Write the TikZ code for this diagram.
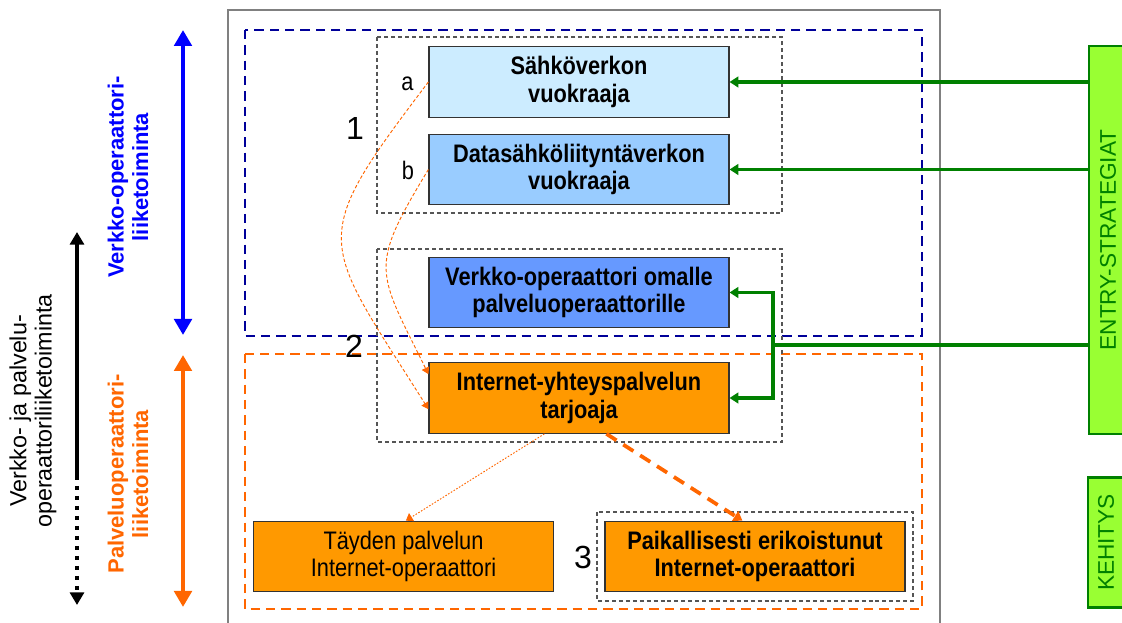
\documentclass[tikz,border=0pt]{standalone}
\usepackage{graphicx}
\usepackage{fontspec}
\setmainfont{Liberation Sans}
\newfontfamily\narrowsans{Liberation Sans}[FakeStretch=0.86]
\usetikzlibrary{arrows.meta,calc}

\definecolor{paleblue}{HTML}{CCECFF}
\definecolor{skyblue}{HTML}{99CCFF}
\definecolor{cornblue}{HTML}{6699FF}
\definecolor{isporange}{HTML}{FF9900}
\definecolor{navyline}{HTML}{000099}
\definecolor{orangeline}{HTML}{FF6600}
\definecolor{pureblue}{HTML}{0000FF}
\definecolor{darkgreen}{HTML}{008000}
\definecolor{limefill}{HTML}{99FF33}
\definecolor{framegray}{HTML}{808080}
\definecolor{groupgray}{HTML}{555555}
\definecolor{boxedge}{HTML}{333333}

\newcommand{\boxtextsize}{\narrowsans\fontsize{19}{20.5}\selectfont}
\newcommand{\sidetextsize}{\fontsize{16.5}{18.5}\selectfont}
\newcommand{\numtextsize}{\fontsize{24}{28}\selectfont}

\begin{document}
\begin{tikzpicture}[x=0.75pt,y=-0.75pt,
  opbox/.style={draw=boxedge, line width=0.9pt, minimum width=225pt,
    minimum height=52.9pt, inner sep=0pt, align=center,
    font=\boxtextsize\bfseries},
  groupbox/.style={draw=groupgray, line width=0.8pt, dash pattern=on 3pt off 2.2pt},
  netzone/.style={draw=navyline, line width=1.5pt, dash pattern=on 7pt off 4.5pt},
  servzone/.style={draw=orangeline, line width=1.5pt, dash pattern=on 7pt off 4.5pt},
  entrybox/.style={draw=darkgreen, fill=limefill, line width=2.2pt, inner sep=0pt,
    text=darkgreen, font=\fontsize{17}{20}\selectfont},
  greenarrow/.style={draw=darkgreen, line width=2.4pt,
    -{Triangle[width=8pt,length=6.5pt]}},
  greenline/.style={draw=darkgreen, line width=2.4pt},
  spanarrow/.style={line width=3pt,
    {Triangle[width=13pt,length=12pt]}-{Triangle[width=13pt,length=12pt]}},
  pathcurve/.style={draw=orangeline, line width=0.7pt, dash pattern=on 2.5pt off 1.6pt,
    -{Triangle[width=6pt,length=5pt]}},
  finedots/.style={draw=orangeline, line width=0.7pt, dash pattern=on 1.2pt off 1.2pt,
    -{Triangle[width=7pt,length=5pt]}},
  thickdash/.style={draw=orangeline, line width=2.8pt, dash pattern=on 9pt off 6pt,
    -{Triangle[width=8.5pt,length=6.5pt]}},
  sidetext/.style={rotate=90, align=center, font=\sidetextsize},
  numlabel/.style={font=\numtextsize, inner sep=0pt},
  letterlabel/.style={font=\boxtextsize, inner sep=0pt}
]
\useasboundingbox (0,0) rectangle (1122,623);
\clip (0,0) rectangle (1122,623);

% outer frame and business zones
\draw[framegray, line width=1.1pt] (228,10) rectangle (940,660);
\draw[netzone] (245,30) rectangle (922,336);
\draw[servzone] (245,354) rectangle (922,609);

% groupings of operator roles
\draw[groupbox] (377,37) rectangle (782,213);
\draw[groupbox] (377,249) rectangle (782,442);
\draw[groupbox] (597,512) rectangle (913,601);

% operator role boxes
\node[opbox, fill=paleblue] (sahko) at (579,82) {Sähköverkon\\vuokraaja};
\node[opbox, fill=skyblue] (data) at (579,169.5) {Datasähköliityntäverkon\\vuokraaja};
\node[opbox, fill=cornblue] (verkko) at (579,292.5) {Verkko-operaattori omalle\\palveluoperaattorille};
\node[opbox, fill=isporange] (inet) at (579,398) {Internet-yhteyspalvelun\\tarjoaja};
\node[opbox, fill=isporange, font=\boxtextsize] (full) at (403.5,556.5) {Täyden palvelun\\Internet-operaattori};
\node[opbox, fill=isporange] (local) at (755,556.5) {Paikallisesti erikoistunut\\Internet-operaattori};

% step labels
\node[letterlabel] (la) at (407.5,84) {a};
\node[letterlabel] (lb) at (408,170) {b};
\node[numlabel] (n1) at (355,128) {1};
\node[numlabel] (n2) at (354,346) {2};
\node[numlabel] (n3) at (583,557) {3};

% development paths
\draw[pathcurve] (sahko.west) .. controls (306,243) and (320,237) .. ($(inet.north west)+(0,47)$);
\draw[pathcurve] (data.west) .. controls (368,269) and (377,270) .. ($(inet.north west)+(0,12)$);
\draw[finedots] ($(inet.south west)+(116,0)$) -- ($(full.north west)+(153,0)$);
\draw[thickdash] ($(inet.south west)+(178,0)$) -- ($(local.north west)+(138,0)$);

% strategy bars
\node[entrybox, minimum width=28.5pt, minimum height=291pt] (entry) at (1108,240)
  {\rotatebox{90}{ENTRY-STRATEGIAT}};
\node[entrybox, minimum width=27pt, minimum height=98pt] (kehitys) at (1106,542.5)
  {\rotatebox{90}{KEHITYS}};

% entry strategy connectors
\draw[greenarrow] (entry.west |- sahko.east) -- (sahko.east);
\draw[greenarrow] (entry.west |- data.east) -- (data.east);
\coordinate (fork) at (773,345);
\draw[greenline] (entry.west |- fork) -- (fork);
\draw[greenarrow] (fork) |- (verkko.east);
\draw[greenarrow] (fork) |- (inet.east);

% business scope arrows
\coordinate (nettop) at (183,30);
\coordinate (netbot) at (183,335);
\coordinate (servtop) at (183,355);
\coordinate (servbot) at (183,607);
\coordinate (bothtop) at (77,232);
\coordinate (bothmid) at (77,476);
\coordinate (bothbot) at (77,605);
\draw[spanarrow, pureblue] (nettop) -- (netbot);
\draw[spanarrow, orangeline] (servtop) -- (servbot);
\draw[line width=3.2pt, -{Triangle[width=10.5pt,length=9.5pt]}] (bothmid) -- (bothtop);
\draw[line width=3.2pt, dash pattern=on 3pt off 4.5pt, -{Triangle[width=10.5pt,length=9.5pt]}] (bothmid) -- (bothbot);

% business scope labels
\node[sidetext, text=pureblue, font=\sidetextsize\bfseries] (nettext) at (128,177)
  {Verkko-operaattori-\\liiketoiminta};
\node[sidetext, text=orangeline, font=\sidetextsize\bfseries] (servtext) at (128,474)
  {Palveluoperaattori-\\liiketoiminta};
\node[sidetext, font=\fontsize{17.5}{19}\selectfont] (bothtext) at (33,411)
  {Verkko- ja palvelu-\\operaattoriliiketoiminta};
\end{tikzpicture}
\end{document}
